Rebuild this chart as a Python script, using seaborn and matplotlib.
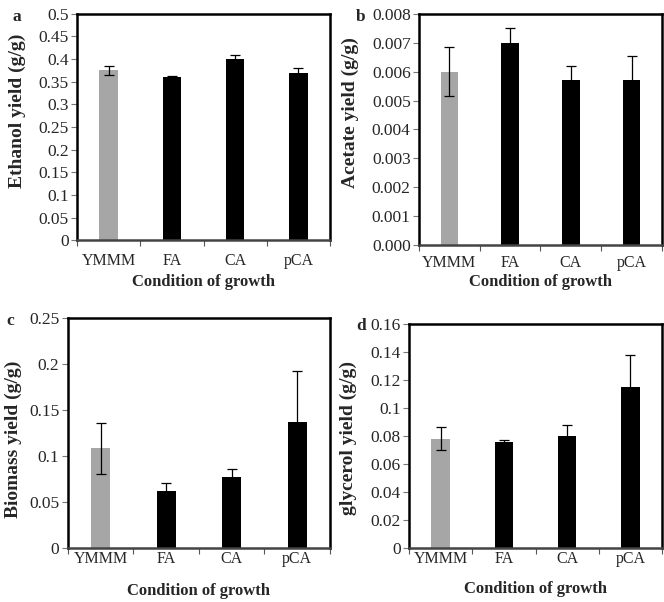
import numpy as np
import pandas as pd
import matplotlib
matplotlib.use("Agg")
import matplotlib.pyplot as plt
import seaborn as sns
from matplotlib.ticker import FuncFormatter, FixedLocator

sns.set_style("white")
plt.rcParams['font.family'] = ['Liberation Serif', 'DejaVu Serif']

conditions = ["YMMM", "FA", "CA", "pCA"]

ethanol = [0.375, 0.360, 0.400, 0.370]
ethanol_err = [0.010, 0.003, 0.008, 0.010]

acetate = [0.0060, 0.0070, 0.0057, 0.0057]
acetate_err = [0.00085, 0.0005, 0.0005, 0.00085]

biomass = [0.108, 0.062, 0.077, 0.137]
biomass_err = [0.028, 0.008, 0.009, 0.055]

glycerol = [0.078, 0.0755, 0.080, 0.115]
glycerol_err = [0.008, 0.0015, 0.008, 0.023]

bar_colors = ["#a6a6a6", "black", "black", "black"]

W, H = 664, 602

panels = [
    # letter, values, errors, ylabel, ymax, step, fmt, axes rect, letter pos,
    # x tick pad, xlabel offset px, ylabel offset px, ylabel y frac
    ("a", ethanol, ethanol_err, "Ethanol yield (g/g)", 0.5, 0.05, "%g",
     [0.116, 0.601, 0.381, 0.376], (0.019, 0.985), 9, 42, 60, 0.57),
    ("b", acetate, acetate_err, "Acetate yield (g/g)", 0.008, 0.001, "%.3f",
     [0.631, 0.593, 0.366, 0.384], (0.536, 0.985), 7, 37, 69, 0.575),
    ("c", biomass, biomass_err, "Biomass yield (g/g)", 0.25, 0.05, "%g",
     [0.102, 0.090, 0.395, 0.382], (0.010, 0.480), 2, 43, 54, 0.47),
    ("d", glycerol, glycerol_err, "glycerol yield (g/g)", 0.16, 0.02, "%g",
     [0.616, 0.090, 0.381, 0.372], (0.536, 0.472), 2, 41, 61, 0.49),
]

fig = plt.figure(figsize=(6.64, 6.02), dpi=100)

for letter, vals, errs, ylab, ymax, step, fmt, rect, lpos, tpad, xoff, yoff, yfrac in panels:
    ax = fig.add_axes(rect)
    df = pd.DataFrame({"cond": conditions, "val": vals})
    sns.barplot(data=df, x="cond", y="val", hue="cond", palette=bar_colors,
                width=0.29, legend=False, ax=ax, saturation=1, edgecolor="none")
    ax.errorbar(np.arange(len(vals)), vals, yerr=errs, fmt="none",
                ecolor="black", elinewidth=0.9, capsize=3.5, capthick=0.9, zorder=5)
    ax.set_xlim(-0.5, 3.5)
    ax.set_ylim(0, ymax)
    ax.set_yticks(np.arange(0, ymax + step / 2, step))
    ax.yaxis.set_major_formatter(FuncFormatter(lambda v, p, f=fmt: f % round(v, 6)))
    ax.tick_params(axis="y", length=4, width=0.8, color="#777777", direction="out",
                   left=True, labelsize=12.5, pad=2)
    ax.tick_params(axis="x", which="major", length=0, labelsize=11.5, pad=tpad)
    ax.xaxis.set_minor_locator(FixedLocator([-0.5, 0.5, 1.5, 2.5, 3.5]))
    ax.tick_params(axis="x", which="minor", length=4, width=0.8, color="#555555",
                   direction="out", bottom=True)
    for s in ax.spines.values():
        s.set_visible(True)
        s.set_color("black")
        s.set_linewidth(1.8)
    ax.spines["bottom"].set_color("#444444")
    ax.set_xlabel("Condition of growth", fontsize=12, fontweight="bold")
    ax.xaxis.label.set_va("center")
    ax.xaxis.set_label_coords(0.5, -xoff / (rect[3] * H))
    ax.set_ylabel(ylab, fontsize=14, fontweight="bold")
    ax.yaxis.label.set_va("center")
    ax.yaxis.set_label_coords(-yoff / (rect[2] * W), yfrac)
    fig.text(lpos[0], lpos[1], letter, fontsize=12.5, fontweight="bold",
             ha="left", va="top")

fig.savefig("out.png", dpi=100)
